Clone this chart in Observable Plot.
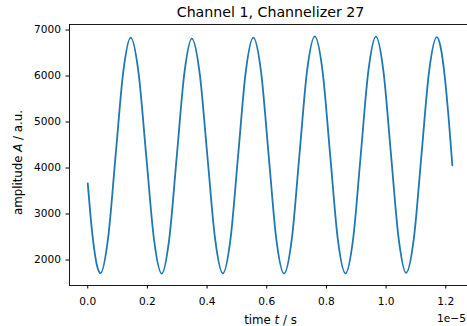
<!DOCTYPE html>
<html>
<head>
<meta charset="utf-8">
<script src="https://cdn.jsdelivr.net/npm/d3@7"></script>
<script src="https://cdn.jsdelivr.net/npm/@observablehq/plot@0.6"></script>
<style>
  html, body { margin: 0; padding: 0; background: white; overflow: hidden; }
</style>
</head>
<body>
<div id="chart"></div>
<script>
// time in units of 1e-5 s
const timeE5 = [
  0.000, 0.010, 0.021, 0.032, 0.043,
  0.068, 0.0935, 0.119, 0.144,
  0.170, 0.196, 0.222, 0.248,
  0.273, 0.2985, 0.324, 0.349,
  0.375, 0.401, 0.427, 0.453,
  0.4785, 0.504, 0.5295, 0.555,
  0.581, 0.6065, 0.632, 0.658,
  0.684, 0.7095, 0.735, 0.761,
  0.787, 0.8125, 0.838, 0.864,
  0.8895, 0.915, 0.9405, 0.966,
  0.991, 1.0165, 1.042, 1.067,
  1.093, 1.1185, 1.144, 1.170,
  1.183, 1.196, 1.209, 1.222
];
// amplitude in a.u.
const amplitude = [
  3667, 2910, 2272, 1854, 1715,
  2463, 4275, 6087, 6835,
  6086, 4270, 2454, 1705,
  2451, 4260, 6069, 6815,
  6070, 4262, 2455, 1710,
  2458, 4273, 6087, 6835,
  6086, 4270, 2454, 1705,
  2458, 4283, 6107, 6860,
  6108, 4285, 2462, 1710,
  2461, 4283, 6104, 6855,
  6105, 4287, 2470, 1720,
  2468, 4283, 6097, 6845,
  6620, 6020, 5130, 4060
];
const xTicks = [0.0, 0.2, 0.4, 0.6, 0.8, 1.0, 1.2];
const yTicks = [2000, 3000, 4000, 5000, 6000, 7000];
const titleText = "Channel 1, Channelizer 27";
const offsetText = "1e\u22125";

const data = timeE5.map((t, i) => ({t, a: amplitude[i]}));
const xDomain = [-0.0611, 1.2728];
const yDomain = [1446, 7120];

const chart = Plot.plot({
  width: 467,
  height: 326,
  marginTop: 24,
  marginLeft: 69,
  marginRight: 0,
  marginBottom: 41,
  style: {fontFamily: "DejaVu Sans", fontSize: "10.6px", color: "black", background: "white"},
  x: {domain: xDomain, ticks: xTicks, tickFormat: d3.format(".1f"), label: null, tickSize: 3.5, tickPadding: 8},
  y: {domain: yDomain, ticks: yTicks, tickFormat: d3.format("d"), label: null, tickSize: 3.5, tickPadding: 5},
  marks: [
    Plot.line(data, {x: "t", y: "a", stroke: "#1f77b4", strokeWidth: 1.8, curve: "monotone-x"}),
    Plot.ruleY([yDomain[0], yDomain[1]], {stroke: "black", strokeWidth: 0.9}),
    Plot.ruleX([xDomain[0]], {stroke: "black", strokeWidth: 0.9})
  ]
});

const svg = d3.select(chart);
svg.append("text")
  .attr("x", 270.5).attr("y", 16.5)
  .attr("text-anchor", "middle")
  .attr("font-size", "14.2px")
  .attr("fill", "black")
  .text(titleText);

const xl = svg.append("text")
  .attr("x", 270.5).attr("y", 324)
  .attr("text-anchor", "middle")
  .attr("font-size", "11.8px")
  .attr("fill", "black");
xl.append("tspan").text("time ");
xl.append("tspan").attr("font-style", "italic").text("t");
xl.append("tspan").text(" / s");

const yl = svg.append("text")
  .attr("transform", "translate(22.2,162.5) rotate(-90)")
  .attr("text-anchor", "middle")
  .attr("font-size", "11.8px")
  .attr("fill", "black");
yl.append("tspan").text("amplitude ");
yl.append("tspan").attr("font-style", "italic").text("A");
yl.append("tspan").text(" / a.u.");

svg.append("text")
  .attr("x", 437).attr("y", 321.5)
  .attr("text-anchor", "start")
  .attr("font-size", "10.6px")
  .attr("fill", "black")
  .text(offsetText);

document.getElementById("chart").appendChild(chart);
</script>
</body>
</html>
